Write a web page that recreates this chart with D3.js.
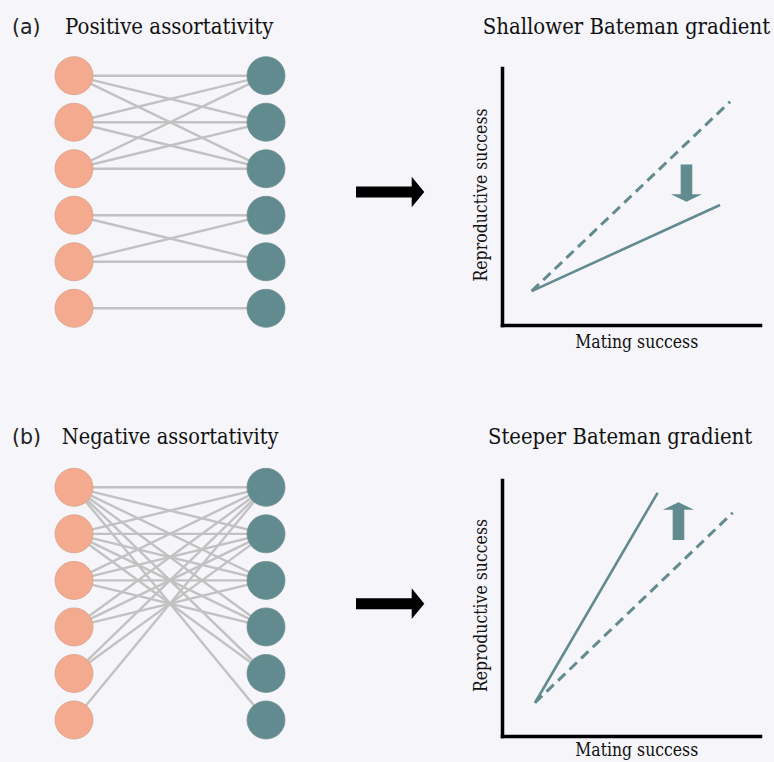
<!DOCTYPE html>
<html>
<head>
<meta charset="utf-8">
<script src="https://cdn.jsdelivr.net/npm/d3@7"></script>
<style>
  html, body { margin: 0; padding: 0; background: #f5f5fa; }
  svg { display: block; }
</style>
</head>
<body>
<div id="chart"></div>
<script>
// ---------- DATA ----------
const panelLetters = ["(a)", "(b)"];
const networkTitles = ["Positive assortativity", "Negative assortativity"];
const chartTitles = ["Shallower Bateman gradient", "Steeper Bateman gradient"];
const xAxisLabel = "Mating success";
const yAxisLabel = "Reproductive success";

const leftNodes = [1, 2, 3, 4, 5, 6];   // females (salmon)
const rightNodes = [1, 2, 3, 4, 5, 6];  // males (teal)

// edges [left, right]
const edgesPositive = [
  [1, 1], [1, 2], [1, 3],
  [2, 1], [2, 2], [2, 3],
  [3, 1], [3, 2], [3, 3],
  [4, 4], [4, 5],
  [5, 4], [5, 5],
  [6, 6]
];
const edgesNegative = [
  [1, 1], [1, 2], [1, 3], [1, 4], [1, 5], [1, 6],
  [2, 1], [2, 2], [2, 3], [2, 4], [2, 5],
  [3, 1], [3, 2], [3, 3], [3, 4],
  [4, 1], [4, 2], [4, 3],
  [5, 1], [5, 2],
  [6, 1]
];

// Bateman gradient lines: [mating success, reproductive success] in 0..10 units
const shallowReference = [[1.15, 1.32], [8.84, 8.69]];  // dashed
const shallowGradient  = [[1.15, 1.32], [8.45, 4.67]];  // solid
const steepReference   = [[1.28, 1.30], [8.94, 8.72]];  // dashed
const steepGradient    = [[1.28, 1.30], [6.03, 9.50]];  // solid

// change arrows: x, start y, tip y (data units)
const shiftArrowA = [7.15, 6.25, 4.80];
const shiftArrowB = [6.84, 7.66, 9.13];

// ---------- STYLE ----------
const W = 774, H = 762;
const femaleColor = "#f3aa8e";
const maleColor = "#628b8f";
const edgeColor = "#c2c2c2";
const lineColor = "#628b8f";
const serif = "'DejaVu Serif', 'Liberation Serif', serif";
const vStretch = 1.12;

const svg = d3.select("#chart").append("svg")
  .attr("width", W).attr("height", H)
  .style("background", "#f5f5fa");

function fitText(sel, width) {
  const node = sel.node();
  const fs = parseFloat(sel.attr("font-size"));
  const w = node.getComputedTextLength();
  sel.attr("font-size", (fs * width / w).toFixed(2));
}

function serifText(parent, x, y, txt, width, rotate, anchor) {
  const t = parent.append("text")
    .attr("transform", `translate(${x},${y})${rotate ? " rotate(-90)" : ""} scale(1,${vStretch})`)
    .attr("text-anchor", anchor || "start")
    .attr("font-family", serif).attr("font-size", 16).attr("fill", "#111")
    .text(txt);
  fitText(t, width);
  return t;
}

const panels = [
  { edges: edgesPositive, nodeRange: [75.7, 308.3], xLabelOffset: 23.3,
    yRange: [325, 68], ref: shallowReference, grad: shallowGradient, arrow: shiftArrowA },
  { edges: edgesNegative, nodeRange: [487.3, 720], xLabelOffset: 20,
    yRange: [736, 480], ref: steepReference, grad: steepGradient, arrow: shiftArrowB }
];

const titleY = [34.3, 443.5];
const titleX = [[65, 273.3], [61.7, 278.3]];
const chartTitleX = [[482.7, 770], [488, 752]];

panels.forEach((p, i) => {
  const g = svg.append("g");

  // panel letter
  g.append("text")
    .attr("x", 12).attr("y", titleY[i])
    .attr("font-family", "'DejaVu Sans', Arial, sans-serif")
    .attr("font-size", 20.5).attr("fill", "#222")
    .text(panelLetters[i]);

  serifText(g, titleX[i][0], titleY[i], networkTitles[i], titleX[i][1] - titleX[i][0]);
  serifText(g, chartTitleX[i][0], titleY[i], chartTitles[i], chartTitleX[i][1] - chartTitleX[i][0]);

  // ---- network ----
  const ny = d3.scalePoint().domain(leftNodes).range(p.nodeRange);
  const nx = d3.scalePoint().domain(["F", "M"]).range([74, 266]);
  const r = 19;

  g.append("g").selectAll("line").data(p.edges).join("line")
    .attr("x1", nx("F")).attr("y1", d => ny(d[0]))
    .attr("x2", nx("M")).attr("y2", d => ny(d[1]))
    .attr("stroke", edgeColor).attr("stroke-width", 2.4);

  g.append("g").selectAll("circle").data(leftNodes).join("circle")
    .attr("cx", nx("F")).attr("cy", d => ny(d)).attr("r", r)
    .attr("fill", femaleColor).attr("stroke", "#d9a08a").attr("stroke-width", 0.8);
  g.append("g").selectAll("circle").data(rightNodes).join("circle")
    .attr("cx", nx("M")).attr("cy", d => ny(d)).attr("r", r)
    .attr("fill", maleColor).attr("stroke", "#6f8f92").attr("stroke-width", 0.8);

  // big black arrow
  const cy = (p.nodeRange[0] + p.nodeRange[1]) / 2;
  const ax0 = 356, ax1 = 411.7, axTip = 424.3, sh = 5.5, hh = 15.3;
  g.append("path")
    .attr("d", `M${ax0},${cy - sh}L${ax1},${cy - sh}L${ax1},${cy - hh}L${axTip},${cy}` +
               `L${ax1},${cy + hh}L${ax1},${cy + sh}L${ax0},${cy + sh}Z`)
    .attr("fill", "#000");

  // ---- Bateman chart ----
  const x = d3.scaleLinear().domain([0, 10]).range([502, 760]);
  const y = d3.scaleLinear().domain([0, 10]).range(p.yRange);

  const line = d3.line().x(d => x(d[0])).y(d => y(d[1]));
  g.append("path").datum(p.ref).attr("d", line)
    .attr("fill", "none").attr("stroke", lineColor).attr("stroke-width", 3)
    .attr("stroke-dasharray", "10,6");
  g.append("path").datum(p.grad).attr("d", line)
    .attr("fill", "none").attr("stroke", lineColor).attr("stroke-width", 2.6);

  // shift arrow
  const [axd, y0d, y1d] = p.arrow;
  const cx = x(axd), ys = y(y0d), yt = y(y1d);
  const dir = Math.sign(yt - ys);
  const headLen = 7.4, shaftHalf = 5.8, headHalf = 15.5;
  const yb = yt - dir * headLen;
  g.append("path")
    .attr("d", `M${cx - shaftHalf},${ys}L${cx - shaftHalf},${yb}L${cx - headHalf},${yb}L${cx},${yt}` +
               `L${cx + headHalf},${yb}L${cx + shaftHalf},${yb}L${cx + shaftHalf},${ys}Z`)
    .attr("fill", lineColor);

  // axes (no ticks)
  const xAxis = d3.axisBottom(x).tickValues([]).tickSizeOuter(0);
  const yAxis = d3.axisLeft(y).tickValues([]).tickSizeOuter(0);
  const gx = g.append("g").attr("transform", `translate(0,${y(0)})`).call(xAxis);
  const gy = g.append("g").attr("transform", `translate(${x(0)},0)`).call(yAxis);
  [gx, gy].forEach(a => a.select(".domain")
    .attr("stroke", "#000").attr("stroke-width", 3.5).attr("stroke-linecap", "square"));

  // axis labels
  serifText(g, 636.7, y(0) + p.xLabelOffset, xAxisLabel, 123, false, "middle");
  const ymid = (y(0) + y(10)) / 2 + (i === 0 ? -1.5 : -2.5);
  serifText(g, 486.5, ymid, yAxisLabel, 173, true, "middle");
});
</script>
</body>
</html>
